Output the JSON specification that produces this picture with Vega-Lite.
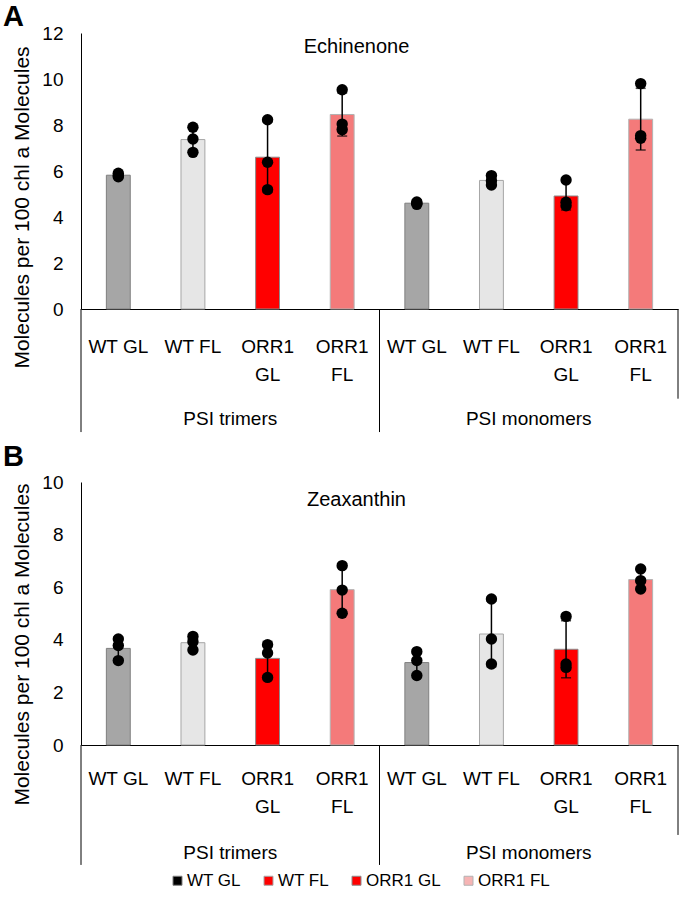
{
  "$schema": "https://vega.github.io/schema/vega-lite/v6.json",
  "padding": {"left": 3, "top": 3, "right": 0, "bottom": 0},
  "background": "white",
  "config": {
    "font": "Liberation Sans",
    "view": {"stroke": null},
    "axis": {"grid": false, "ticks": false, "domainColor": "#000000", "domainWidth": 1, "labelColor": "#000000", "labelFont": "Liberation Sans", "titleFont": "Liberation Sans", "titleColor": "#000000", "titleFontWeight": "normal"}
  },
  "datasets": {
    "echinenone": [
      {"complex": "PSI trimers", "strain": "WT GL", "value": 5.9},
      {"complex": "PSI trimers", "strain": "WT GL", "value": 5.8},
      {"complex": "PSI trimers", "strain": "WT GL", "value": 5.75},
      {"complex": "PSI trimers", "strain": "WT FL", "value": 7.9},
      {"complex": "PSI trimers", "strain": "WT FL", "value": 7.39},
      {"complex": "PSI trimers", "strain": "WT FL", "value": 6.81},
      {"complex": "PSI trimers", "strain": "ORR1 GL", "value": 8.23},
      {"complex": "PSI trimers", "strain": "ORR1 GL", "value": 6.38},
      {"complex": "PSI trimers", "strain": "ORR1 GL", "value": 5.19},
      {"complex": "PSI trimers", "strain": "ORR1 FL", "value": 9.53},
      {"complex": "PSI trimers", "strain": "ORR1 FL", "value": 8.04},
      {"complex": "PSI trimers", "strain": "ORR1 FL", "value": 7.8},
      {"complex": "PSI monomers", "strain": "WT GL", "value": 4.65},
      {"complex": "PSI monomers", "strain": "WT GL", "value": 4.55},
      {"complex": "PSI monomers", "strain": "WT GL", "value": 4.6},
      {"complex": "PSI monomers", "strain": "WT FL", "value": 5.8},
      {"complex": "PSI monomers", "strain": "WT FL", "value": 5.58},
      {"complex": "PSI monomers", "strain": "WT FL", "value": 5.39},
      {"complex": "PSI monomers", "strain": "ORR1 GL", "value": 5.61},
      {"complex": "PSI monomers", "strain": "ORR1 GL", "value": 4.64},
      {"complex": "PSI monomers", "strain": "ORR1 GL", "value": 4.49},
      {"complex": "PSI monomers", "strain": "ORR1 FL", "value": 9.8},
      {"complex": "PSI monomers", "strain": "ORR1 FL", "value": 7.54},
      {"complex": "PSI monomers", "strain": "ORR1 FL", "value": 7.42}
    ],
    "zeaxanthin": [
      {"complex": "PSI trimers", "strain": "WT GL", "value": 4.03},
      {"complex": "PSI trimers", "strain": "WT GL", "value": 3.78},
      {"complex": "PSI trimers", "strain": "WT GL", "value": 3.21},
      {"complex": "PSI trimers", "strain": "WT FL", "value": 4.13},
      {"complex": "PSI trimers", "strain": "WT FL", "value": 3.93},
      {"complex": "PSI trimers", "strain": "WT FL", "value": 3.61},
      {"complex": "PSI trimers", "strain": "ORR1 GL", "value": 3.81},
      {"complex": "PSI trimers", "strain": "ORR1 GL", "value": 3.5},
      {"complex": "PSI trimers", "strain": "ORR1 GL", "value": 2.57},
      {"complex": "PSI trimers", "strain": "ORR1 FL", "value": 6.82},
      {"complex": "PSI trimers", "strain": "ORR1 FL", "value": 5.89},
      {"complex": "PSI trimers", "strain": "ORR1 FL", "value": 5.01},
      {"complex": "PSI monomers", "strain": "WT GL", "value": 3.55},
      {"complex": "PSI monomers", "strain": "WT GL", "value": 3.21},
      {"complex": "PSI monomers", "strain": "WT GL", "value": 2.64},
      {"complex": "PSI monomers", "strain": "WT FL", "value": 5.55},
      {"complex": "PSI monomers", "strain": "WT FL", "value": 4.03},
      {"complex": "PSI monomers", "strain": "WT FL", "value": 3.08},
      {"complex": "PSI monomers", "strain": "ORR1 GL", "value": 4.89},
      {"complex": "PSI monomers", "strain": "ORR1 GL", "value": 3.08},
      {"complex": "PSI monomers", "strain": "ORR1 GL", "value": 2.95},
      {"complex": "PSI monomers", "strain": "ORR1 FL", "value": 6.69},
      {"complex": "PSI monomers", "strain": "ORR1 FL", "value": 6.25},
      {"complex": "PSI monomers", "strain": "ORR1 FL", "value": 5.93}
    ]
  },
  "spacing": 173,
  "bounds": "flush",
  "resolve": {"scale": {"x": "independent", "y": "independent", "color": "independent", "stroke": "independent", "fill": "independent"}},
  "vconcat": [
    {
      "width": 597,
      "height": 276,
      "data": {"name": "echinenone"},
      "transform": [{"calculate": "datum.complex + '|' + datum.strain", "as": "key"}],
      "encoding": {
        "x": {
          "field": "key", "type": "nominal", "title": null,
          "scale": {"domain": ["PSI trimers|WT GL", "PSI trimers|WT FL", "PSI trimers|ORR1 GL", "PSI trimers|ORR1 FL", "PSI monomers|WT GL", "PSI monomers|WT FL", "PSI monomers|ORR1 GL", "PSI monomers|ORR1 FL"], "paddingInner": 0, "paddingOuter": 0},
          "axis": {"labelAngle": 0, "labelFontSize": 19, "labelPadding": 28, "labelLineHeight": 28, "labelExpr": "indexof(datum.label, 'ORR1') >= 0 ? ['ORR1', slice(datum.label, indexof(datum.label, 'ORR1') + 5)] : slice(datum.label, indexof(datum.label, '|') + 1)"}
        }
      },
      "layer": [
        {
          "mark": {"type": "bar", "strokeWidth": 1, "width": {"band": 0.32}},
          "encoding": {
            "y": {"aggregate": "mean", "field": "value", "type": "quantitative",
              "title": "Molecules per 100 chl a Molecules",
              "scale": {"domain": [0, 12], "nice": false},
              "axis": {"values": [0, 2, 4, 6, 8, 10, 12], "labelFontSize": 19, "labelPadding": 18, "titleFontSize": 21, "titlePadding": 9, "titleY": 174}},
            "color": {"field": "strain", "type": "nominal", "legend": null,
              "scale": {"domain": ["WT GL", "WT FL", "ORR1 GL", "ORR1 FL"], "range": ["#a6a6a6", "#e6e6e6", "#ff0000", "#f47a7a"]}},
            "stroke": {"field": "strain", "type": "nominal", "legend": null,
              "scale": {"domain": ["WT GL", "WT FL", "ORR1 GL", "ORR1 FL"], "range": ["#7f7f7f", "#a6a6a6", "#8c8c8c", "#b3b3b3"]}}
          }
        },
        {
          "mark": {"type": "errorbar", "extent": "stdev", "ticks": {"size": 10}, "thickness": 1.5, "color": "#000000"},
          "encoding": {"y": {"field": "value", "type": "quantitative", "title": "Molecules per 100 chl a Molecules"}}
        },
        {
          "mark": {"type": "point", "filled": true, "opacity": 1, "color": "#000000", "size": 130},
          "encoding": {"y": {"field": "value", "type": "quantitative", "title": "Molecules per 100 chl a Molecules"}}
        },
        {
          "data": {"values": [{}]},
          "mark": {"type": "rule", "color": "#000000", "strokeWidth": 1},
          "encoding": {"x": {"datum": "PSI trimers|WT GL", "type": "nominal", "bandPosition": 0}, "y": {"datum": 0, "type": "quantitative"}, "y2": {"datum": -5.35}}
        },
        {
          "data": {"values": [{}]},
          "mark": {"type": "rule", "color": "#000000", "strokeWidth": 1},
          "encoding": {"x": {"datum": "PSI monomers|WT GL", "type": "nominal", "bandPosition": 0}, "y": {"datum": 0, "type": "quantitative"}, "y2": {"datum": -5.35}}
        },
        {
          "data": {"values": [{}]},
          "mark": {"type": "rule", "color": "#000000", "strokeWidth": 1},
          "encoding": {"x": {"datum": "PSI monomers|ORR1 FL", "type": "nominal", "bandPosition": 1}, "y": {"datum": 0, "type": "quantitative"}, "y2": {"datum": -3.9}}
        },
        {
          "data": {"values": [{}]},
          "mark": {"type": "text", "fontSize": 19, "color": "#000000", "baseline": "middle"},
          "encoding": {"x": {"datum": "PSI trimers|WT FL", "type": "nominal", "bandPosition": 1}, "y": {"datum": -4.8, "type": "quantitative"}, "text": {"value": "PSI trimers"}}
        },
        {
          "data": {"values": [{}]},
          "mark": {"type": "text", "fontSize": 19, "color": "#000000", "baseline": "middle"},
          "encoding": {"x": {"datum": "PSI monomers|WT FL", "type": "nominal", "bandPosition": 1}, "y": {"datum": -4.8, "type": "quantitative"}, "text": {"value": "PSI monomers"}}
        },
        {
          "data": {"values": [{}]},
          "mark": {"type": "text", "fontSize": 20, "color": "#000000", "baseline": "middle", "dx": -23},
          "encoding": {"x": {"datum": "PSI trimers|ORR1 FL", "type": "nominal", "bandPosition": 1}, "y": {"datum": 11.39, "type": "quantitative"}, "text": {"value": "Echinenone"}}
        },
        {
          "data": {"values": [{}]},
          "mark": {"type": "text", "fontSize": 29, "fontWeight": "bold", "color": "#000000", "align": "left", "baseline": "alphabetic", "dx": -78},
          "encoding": {"x": {"datum": "PSI trimers|WT GL", "type": "nominal", "bandPosition": 0}, "y": {"datum": 12.3, "type": "quantitative"}, "text": {"value": "A"}}
        }
      ]
    },
    {
      "width": 597,
      "height": 263,
      "data": {"name": "zeaxanthin"},
      "transform": [{"calculate": "datum.complex + '|' + datum.strain", "as": "key"}],
      "encoding": {
        "x": {
          "field": "key", "type": "nominal", "title": null,
          "scale": {"domain": ["PSI trimers|WT GL", "PSI trimers|WT FL", "PSI trimers|ORR1 GL", "PSI trimers|ORR1 FL", "PSI monomers|WT GL", "PSI monomers|WT FL", "PSI monomers|ORR1 GL", "PSI monomers|ORR1 FL"], "paddingInner": 0, "paddingOuter": 0},
          "axis": {"labelAngle": 0, "labelFontSize": 19, "labelPadding": 24, "labelLineHeight": 28, "labelExpr": "indexof(datum.label, 'ORR1') >= 0 ? ['ORR1', slice(datum.label, indexof(datum.label, 'ORR1') + 5)] : slice(datum.label, indexof(datum.label, '|') + 1)"}
        }
      },
      "layer": [
        {
          "mark": {"type": "point", "shape": "square", "filled": true, "opacity": 1, "size": 20},
          "encoding": {
            "y": {"datum": 1, "type": "quantitative", "title": "Molecules per 100 chl a Molecules"},
            "fill": {"field": "strain", "type": "nominal",
              "scale": {"domain": ["WT GL", "WT FL", "ORR1 GL", "ORR1 FL"], "range": ["#000000", "#ff0000", "#ff0000", "#f6b4b4"]},
              "legend": {"title": null, "orient": "none", "legendX": 88, "legendY": 390, "direction": "horizontal", "symbolType": "square", "symbolSize": 81, "symbolOpacity": 1, "symbolStrokeColor": "#333333", "symbolStrokeWidth": 1, "labelFontSize": 17, "labelColor": "#000000", "labelOffset": 1, "columnPadding": 19}}
          }
        },
        {
          "mark": {"type": "bar", "strokeWidth": 1, "width": {"band": 0.32}},
          "encoding": {
            "y": {"aggregate": "mean", "field": "value", "type": "quantitative",
              "title": "Molecules per 100 chl a Molecules",
              "scale": {"domain": [0, 10], "nice": false},
              "axis": {"values": [0, 2, 4, 6, 8, 10], "labelFontSize": 19, "labelPadding": 18, "titleFontSize": 21, "titlePadding": 9, "titleY": 162}},
            "color": {"field": "strain", "type": "nominal", "legend": null,
              "scale": {"domain": ["WT GL", "WT FL", "ORR1 GL", "ORR1 FL"], "range": ["#a6a6a6", "#e6e6e6", "#ff0000", "#f47a7a"]}},
            "stroke": {"field": "strain", "type": "nominal", "legend": null,
              "scale": {"domain": ["WT GL", "WT FL", "ORR1 GL", "ORR1 FL"], "range": ["#7f7f7f", "#a6a6a6", "#8c8c8c", "#b3b3b3"]}}
          }
        },
        {
          "mark": {"type": "errorbar", "extent": "stdev", "ticks": {"size": 10}, "thickness": 1.5, "color": "#000000"},
          "encoding": {"y": {"field": "value", "type": "quantitative", "title": "Molecules per 100 chl a Molecules"}}
        },
        {
          "mark": {"type": "point", "filled": true, "opacity": 1, "color": "#000000", "size": 130},
          "encoding": {"y": {"field": "value", "type": "quantitative", "title": "Molecules per 100 chl a Molecules"}}
        },
        {
          "data": {"values": [{}]},
          "mark": {"type": "rule", "color": "#000000", "strokeWidth": 1},
          "encoding": {"x": {"datum": "PSI trimers|WT GL", "type": "nominal", "bandPosition": 0}, "y": {"datum": 0, "type": "quantitative"}, "y2": {"datum": -4.56}}
        },
        {
          "data": {"values": [{}]},
          "mark": {"type": "rule", "color": "#000000", "strokeWidth": 1},
          "encoding": {"x": {"datum": "PSI monomers|WT GL", "type": "nominal", "bandPosition": 0}, "y": {"datum": 0, "type": "quantitative"}, "y2": {"datum": -4.56}}
        },
        {
          "data": {"values": [{}]},
          "mark": {"type": "rule", "color": "#000000", "strokeWidth": 1},
          "encoding": {"x": {"datum": "PSI monomers|ORR1 FL", "type": "nominal", "bandPosition": 1}, "y": {"datum": 0, "type": "quantitative"}, "y2": {"datum": -3.42}}
        },
        {
          "data": {"values": [{}]},
          "mark": {"type": "text", "fontSize": 19, "color": "#000000", "baseline": "middle"},
          "encoding": {"x": {"datum": "PSI trimers|WT FL", "type": "nominal", "bandPosition": 1}, "y": {"datum": -4.1, "type": "quantitative"}, "text": {"value": "PSI trimers"}}
        },
        {
          "data": {"values": [{}]},
          "mark": {"type": "text", "fontSize": 19, "color": "#000000", "baseline": "middle"},
          "encoding": {"x": {"datum": "PSI monomers|WT FL", "type": "nominal", "bandPosition": 1}, "y": {"datum": -4.1, "type": "quantitative"}, "text": {"value": "PSI monomers"}}
        },
        {
          "data": {"values": [{}]},
          "mark": {"type": "text", "fontSize": 20, "color": "#000000", "baseline": "middle", "dx": -23},
          "encoding": {"x": {"datum": "PSI trimers|ORR1 FL", "type": "nominal", "bandPosition": 1}, "y": {"datum": 9.32, "type": "quantitative"}, "text": {"value": "Zeaxanthin"}}
        },
        {
          "data": {"values": [{}]},
          "mark": {"type": "text", "fontSize": 29, "fontWeight": "bold", "color": "#000000", "align": "left", "baseline": "alphabetic", "dx": -78},
          "encoding": {"x": {"datum": "PSI trimers|WT GL", "type": "nominal", "bandPosition": 0}, "y": {"datum": 10.61, "type": "quantitative"}, "text": {"value": "B"}}
        }
      ]
    }
  ]
}
